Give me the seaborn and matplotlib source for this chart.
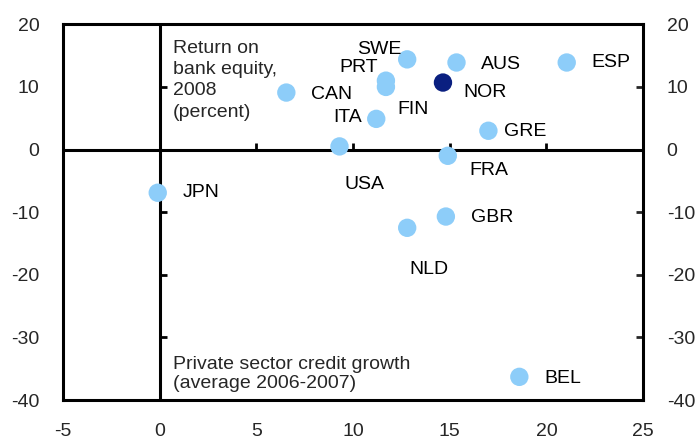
import matplotlib
matplotlib.use("Agg")
import matplotlib.pyplot as plt
from matplotlib.markers import TICKRIGHT, TICKUP
import seaborn as sns
import pandas as pd

# 국가별 데이터
countries = ["CAN", "USA", "ITA", "PRT", "FIN", "SWE", "AUS", "NOR",
             "ESP", "GRE", "FRA", "GBR", "NLD", "JPN", "BEL"]
credit_growth = [6.55, 9.3, 11.2, 11.7, 11.7, 12.8, 15.35, 14.65,
                 21.05, 17.0, 14.9, 14.8, 12.8, -0.1, 18.6]
bank_roe = [9.1, 0.5, 4.9, 11.0, 10.0, 14.4, 13.9, 10.7,
            13.9, 3.0, -1.0, -10.7, -12.5, -6.9, -36.3]
highlight = "NOR"

x_ticks = [-5, 0, 5, 10, 15, 20, 25]
y_ticks = [-40, -30, -20, -10, 0, 10, 20]

# 라벨 위치 (점 기준 픽셀 오프셋, 정렬)
label_pos = {
    "CAN": (25, -2, "left"), "USA": (25, -38, "center"), "ITA": (-14, 1, "right"),
    "PRT": (-8, 13, "right"), "FIN": (11, -23, "left"), "SWE": (-6, 10, "right"),
    "AUS": (24, -2, "left"), "NOR": (20, -10, "left"), "ESP": (25, 0, "left"),
    "GRE": (16, -1, "left"), "FRA": (22, -15, "left"), "GBR": (25, -1, "left"),
    "NLD": (22, -42, "center"), "JPN": (25, 0, "left"), "BEL": (25, -2, "left"),
}

df = pd.DataFrame({"country": countries, "credit": credit_growth, "roe": bank_roe})
df["group"] = ["hl" if c == highlight else "other" for c in df["country"]]

sns.set_style("white")
plt.rcParams["font.family"] = ["Liberation Sans", "DejaVu Sans"]
plt.rcParams["axes.unicode_minus"] = False

fig = plt.figure(figsize=(6.96, 4.42), dpi=100)
ax = fig.add_axes([0.0905, 0.095, 0.8335, 0.85])

# 0 기준선
ax.axhline(0, color="black", lw=2.2, zorder=1)
ax.axvline(0, color="black", lw=2.2, zorder=1)
ax.plot([0] * 4, [10, -10, -20, -30], ls="none", marker=TICKRIGHT,
        ms=5, mew=2, color="black", zorder=1)
ax.plot([5, 10, 15, 20], [0] * 4, ls="none", marker=TICKUP,
        ms=5, mew=2, color="black", zorder=1)

sns.scatterplot(data=df, x="credit", y="roe", hue="group",
                palette={"other": "#8DCDF9", "hl": "#0A1F80"},
                s=175, linewidth=0, legend=False, ax=ax, zorder=3)

for c, xv, yv in zip(countries, credit_growth, bank_roe):
    dx, dy, ha = label_pos[c]
    ax.annotate(c, (xv, yv), xytext=(dx, dy), textcoords="offset pixels",
                ha=ha, va="center", fontsize=14, color="black")

ax.text(0.19, 0.958, "Return on\nbank equity,\n2008\n(percent)",
        transform=ax.transAxes, ha="left", va="top", fontsize=14, linespacing=1.32)
ax.text(0.19, 0.02, "Private sector credit growth\n(average 2006-2007)",
        transform=ax.transAxes, ha="left", va="bottom", fontsize=14, linespacing=1.2)

ax.set_xlim(-5, 25)
ax.set_ylim(-40, 20)
ax.set_xticks(x_ticks)
ax.set_yticks(y_ticks)
ax.set_xlabel("")
ax.set_ylabel("")
ax.tick_params(axis="x", bottom=False, labelbottom=True, pad=13, labelsize=14)
ax.tick_params(axis="y", left=False, right=True, labelleft=True, labelright=True,
               direction="in", length=5, width=2, pad=17, labelsize=14)
for sp in ax.spines.values():
    sp.set_visible(True)
    sp.set_color("black")
    sp.set_linewidth(2.2)

fig.savefig("out.png", dpi=100)
